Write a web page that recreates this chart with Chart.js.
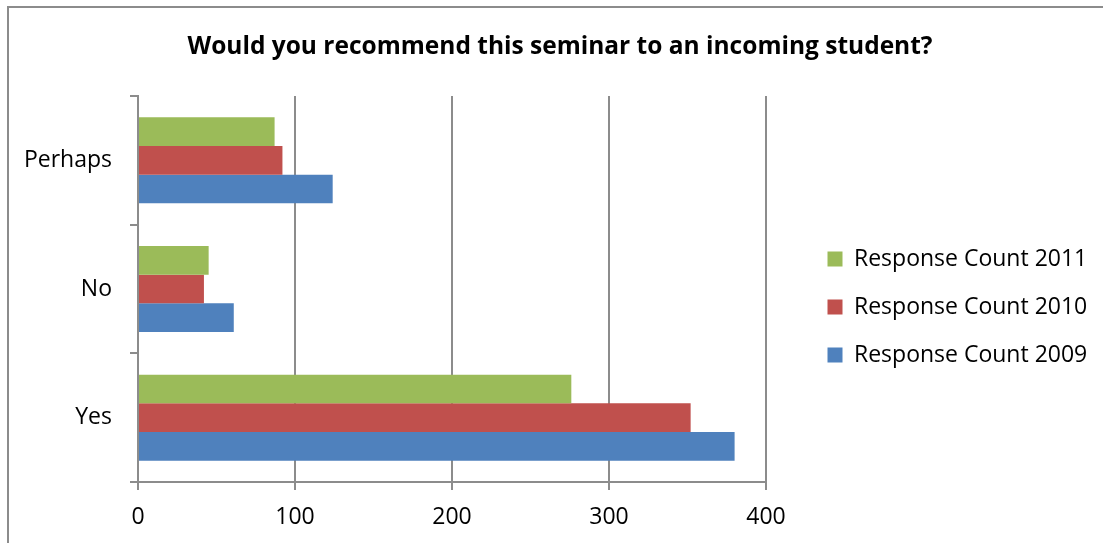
<!DOCTYPE html>
<html>
<head>
<meta charset="utf-8">
<script src="https://cdn.jsdelivr.net/npm/chart.js@4.4.0/dist/chart.umd.min.js"></script>
<style>
  body { margin: 0; background: #fff; }
  #wrap { width: 1103px; height: 543px; }
</style>
</head>
<body>
<div id="wrap"><canvas id="myChart" width="1103" height="543"></canvas></div>
<script>
// answers, top to bottom as drawn
var answers = ['Perhaps', 'No', 'Yes']
var count2011 = [87, 45, 276]
var count2010 = [92, 42, 352]
var count2009 = [124, 61, 380]
var xTicks = [0, 100, 200, 300, 400]

var axisGrey = '#8c8c8c'
var font = "'Open Sans', sans-serif"
var plotRight = 766   // where the 400 gridline sits
var innerGap = 36.5   // space between plot and legend box

// outer frame, only left and top edges show in the picture
var frame = {
  id: 'frame',
  beforeDraw: function(chart) {
    var ctx = chart.ctx
    ctx.save()
    ctx.fillStyle = '#fff'
    ctx.fillRect(0, 0, chart.width, chart.height)
    ctx.strokeStyle = '#8c8c8c'
    ctx.lineWidth = 2
    ctx.beginPath()
    ctx.moveTo(8, chart.height)
    ctx.lineTo(8, 7)
    ctx.lineTo(chart.width, 7)
    ctx.stroke()
    ctx.restore()
  }
}

// empty boxes either side of the legend
function spacer(weight, widthFn) {
  return {
    position: 'right', weight: weight, fullSize: false,
    options: { display: false },
    width: 0, height: 0, left: 0, top: 0, right: 0, bottom: 0,
    isHorizontal: function() { return false },
    update: function(maxWidth, maxHeight) { this.width = widthFn(); this.height = maxHeight },
    draw: function() {}
  }
}
var gaps = {
  id: 'gaps',
  beforeInit: function(chart) {
    Chart.layouts.addBox(chart, spacer(100, function() { return innerGap }))
    Chart.layouts.addBox(chart, spacer(1100, function() {
      var lw = chart.legend ? chart.legend.width : 0
      return Math.max(0, chart.width - plotRight - innerGap - lw)
    }))
  }
}

var ctx = document.getElementById('myChart').getContext('2d')
var chartOne = new Chart(ctx, {
  type: 'bar',
  plugins: [frame, gaps],
  data: {
    labels: answers,
    datasets: [
      { label: 'Response Count 2011', data: count2011, backgroundColor: '#9BBB59' },
      { label: 'Response Count 2010', data: count2010, backgroundColor: '#C0504D' },
      { label: 'Response Count 2009', data: count2009, backgroundColor: '#4F81BD' }
    ]
  },
  options: {
    indexAxis: 'y',
    responsive: false,
    animation: false,
    datasets: { bar: { barPercentage: 1, categoryPercentage: 0.668 } },
    layout: { padding: { left: 17, right: 0, top: 0, bottom: 0 } },
    scales: {
      x: {
        min: 0, max: 400,
        afterBuildTicks: function(scale) { scale.ticks = xTicks.map(function(v) { return { value: v } }) },
        afterFit: function(scale) { scale.height = 61 },
        grid: { color: axisGrey, lineWidth: 2, tickLength: 8, drawTicks: true },
        border: { color: axisGrey, width: 2 },
        ticks: { color: '#000', padding: 14, font: { family: font, size: 23 } }
      },
      y: {
        afterFit: function(scale) { scale.width = 121 },
        grid: { offset: true, drawOnChartArea: false, color: axisGrey, lineWidth: 2, tickLength: 8 },
        border: { color: axisGrey, width: 2 },
        ticks: { color: '#000', padding: 18, font: { family: font, size: 23 } }
      }
    },
    plugins: {
      title: {
        display: true,
        text: 'Would you recommend this seminar to an incoming student?',
        color: '#000',
        font: { family: font, size: 24.5, weight: 'bold', lineHeight: 1.2 },
        padding: { top: 32.3, bottom: 34.3 }
      },
      legend: {
        position: 'right',
        fullSize: false,
        maxWidth: 400,
        title: { display: true, text: '', padding: 0, font: { size: 30, lineHeight: 1.2 } },
        labels: {
          color: '#000',
          boxWidth: 15, boxHeight: 15,
          padding: 25,
          font: { family: font, size: 23 }
        }
      },
      tooltip: { enabled: false }
    }
  }
})
</script>
</body>
</html>
